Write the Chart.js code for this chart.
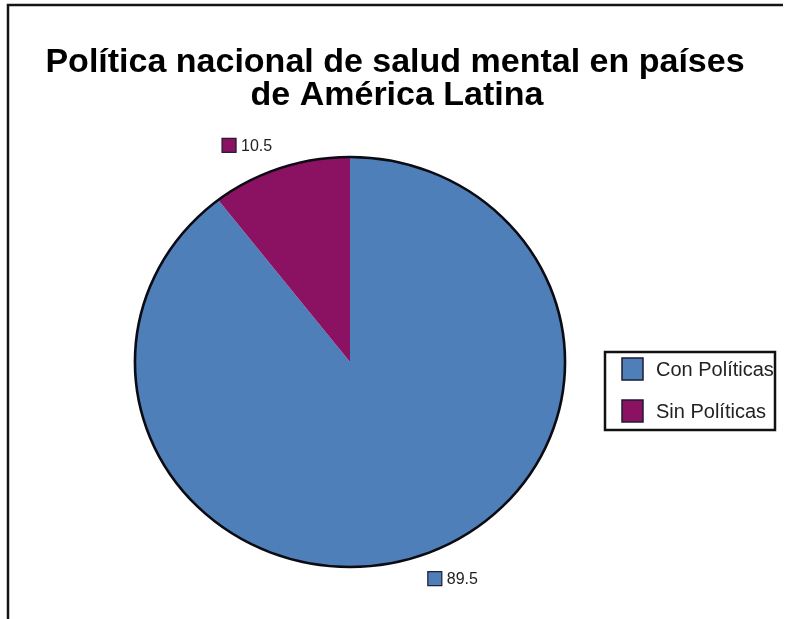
<!DOCTYPE html>
<html>
<head>
<meta charset="utf-8">
<script src="https://cdn.jsdelivr.net/npm/chart.js@4/dist/chart.umd.min.js"></script>
<style>
  body { margin: 0; background: #fff; }
  canvas { display: block; }
</style>
</head>
<body>
<canvas id="pieChart" width="793" height="619"></canvas>
<script>
const titleLines = ['Política nacional de salud mental en países', 'de América Latina'];
const categories = ['Con Políticas', 'Sin Políticas'];
const values = [89.5, 10.5];
const sliceColors = ['#4f7fb9', '#8b1262'];

// pie is a little wider than tall
const stretchX = 1.049;
const FONT = '"Liberation Sans", Arial, sans-serif';

function stretch(ctx, x, y) {
  ctx.translate(x, y);
  ctx.scale(stretchX, 1);
  ctx.translate(-x, -y);
}

const chartDecor = {
  id: 'chartDecor',
  beforeDatasetsDraw(chart) {
    const arc = chart.getDatasetMeta(0).data[0];
    chart.ctx.save();
    stretch(chart.ctx, arc.x, arc.y);
  },
  afterDatasetsDraw(chart) {
    const ctx = chart.ctx;
    const arc = chart.getDatasetMeta(0).data[0];
    // outer outline only
    ctx.beginPath();
    ctx.arc(arc.x, arc.y, arc.outerRadius, 0, Math.PI * 2);
    ctx.lineWidth = 2.5;
    ctx.strokeStyle = '#0b0b14';
    ctx.stroke();
    ctx.restore();
  },
  afterDraw(chart) {
    const ctx = chart.ctx;
    ctx.save();

    // frame
    ctx.strokeStyle = '#151515';
    ctx.lineWidth = 2.5;
    ctx.beginPath();
    ctx.moveTo(8, 619);
    ctx.lineTo(8, 5);
    ctx.lineTo(783, 5);
    ctx.stroke();

    // title
    ctx.fillStyle = '#000';
    ctx.font = 'bold 34px ' + FONT;
    ctx.textAlign = 'center';
    ctx.textBaseline = 'alphabetic';
    ctx.fillText(titleLines[0], 395, 72);
    ctx.fillText(titleLines[1], 397, 105);

    // value labels with a key square
    const meta = chart.getDatasetMeta(0);
    ctx.font = '16px ' + FONT;
    ctx.textAlign = 'left';
    ctx.textBaseline = 'middle';
    meta.data.forEach((arc, i) => {
      const mid = (arc.startAngle + arc.endAngle) / 2;
      const d = arc.outerRadius + 24;
      const ax = arc.x + Math.cos(mid) * d * stretchX;
      const ay = arc.y + Math.sin(mid) * d;
      const text = String(values[i]);
      const boxW = 14 + 5 + ctx.measureText(text).width;
      const left = ax < arc.x ? ax - boxW : ax;
      ctx.fillStyle = sliceColors[i];
      ctx.fillRect(left, ay - 7, 14, 14);
      ctx.lineWidth = 1.2;
      ctx.strokeStyle = '#1b1b33';
      ctx.strokeRect(left, ay - 7, 14, 14);
      ctx.fillStyle = '#222';
      ctx.fillText(text, left + 19, ay + 1);
    });

    // legend box
    ctx.lineWidth = 2.5;
    ctx.strokeStyle = '#111';
    ctx.strokeRect(605, 352, 170, 78);
    ctx.font = '20px ' + FONT;
    categories.forEach((label, i) => {
      const y = 358 + i * 42;
      ctx.fillStyle = sliceColors[i];
      ctx.fillRect(622, y, 21, 22);
      ctx.lineWidth = 1.5;
      ctx.strokeStyle = '#1b1b33';
      ctx.strokeRect(622, y, 21, 22);
      ctx.fillStyle = '#222';
      ctx.fillText(label, 656, y + 12);
    });

    ctx.restore();
  }
};

new Chart(document.getElementById('pieChart'), {
  type: 'pie',
  data: {
    labels: categories,
    datasets: [{
      data: values,
      backgroundColor: sliceColors,
      borderWidth: 0
    }]
  },
  options: {
    responsive: false,
    animation: false,
    layout: { padding: { left: 145, right: 238, top: 157, bottom: 52 } },
    plugins: {
      legend: { display: false },
      title: { display: false },
      tooltip: { enabled: false }
    }
  },
  plugins: [chartDecor]
});
</script>
</body>
</html>
